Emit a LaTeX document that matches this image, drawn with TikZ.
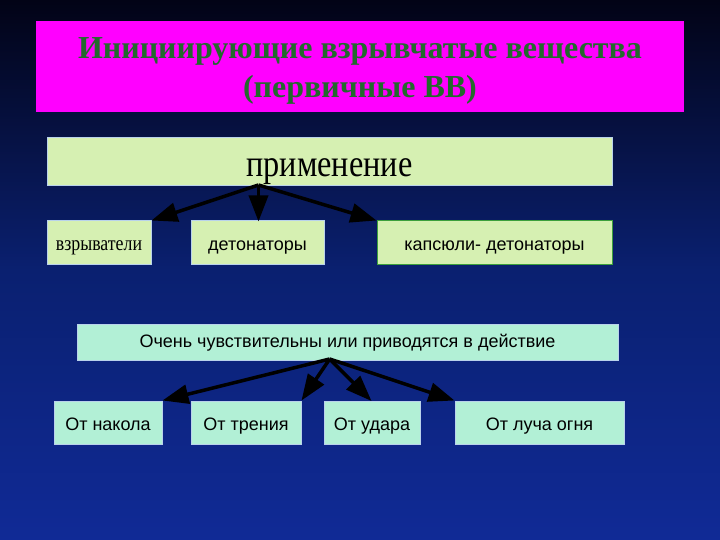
\documentclass[tikz,border=0pt]{standalone}
\usepackage{fontspec}
\setmainfont{Liberation Serif}
\setsansfont{Liberation Sans}
\newfontfamily\narrowserif[FakeStretch=0.85]{Liberation Serif}
\usetikzlibrary{arrows.meta}
\definecolor{skytop}{RGB}{2,3,22}
\definecolor{skymid}{RGB}{10,32,112}
\definecolor{skybottom}{RGB}{16,42,150}
\definecolor{titlepink}{RGB}{255,0,255}
\definecolor{titlegreen}{RGB}{35,105,45}
\definecolor{usegreen}{RGB}{214,240,178}
\definecolor{sensmint}{RGB}{178,240,214}
\definecolor{boxedge}{RGB}{185,210,235}
\definecolor{capedge}{RGB}{60,160,60}
\tikzstyle{usebox}=[draw=boxedge, fill=usegreen, line width=1pt, inner sep=0pt, text height=15pt, text depth=0pt]
\tikzstyle{sensbox}=[draw=boxedge, fill=sensmint, line width=1pt, inner sep=0pt, text height=15pt, text depth=0pt, font=\sffamily\fontsize{18}{21}\selectfont]
\tikzstyle{bigarrow}=[line width=3.5pt, -{Triangle[length=26pt, width=19pt]}]

\begin{document}
\begin{tikzpicture}[x=1pt, y=-1pt]
% Background
    \shade[top color=skytop, bottom color=skybottom, middle color=skymid] (0, 0) rectangle (720, 540);
    \useasboundingbox (0, 0) rectangle (720, 540);
% Title
    \node[fill=titlepink, minimum width=648pt, minimum height=91pt, inner sep=0pt] (title) at (360, 66.5) {};
    \node[align=center, text=titlegreen, font=\fontsize{32}{39}\selectfont\bfseries] (titletext) at (360, 71) {Инициирующие взрывчатые вещества\\(первичные ВВ)};
% Application
    \node[usebox, minimum width=565pt, minimum height=48pt] (use) at (329.5, 162) {};
    \node[anchor=base, inner sep=0pt, font=\narrowserif\fontsize{38}{44}\selectfont] (usetext) at (329.5, 176.5) {применение};
    \node[usebox, minimum width=104pt, minimum height=43pt, font=\narrowserif\fontsize{21}{24}\selectfont] (vzr) at (99, 242.5) {взрыватели};
    \node[usebox, minimum width=133pt, minimum height=43pt, font=\sffamily\fontsize{18}{21}\selectfont] (det) at (257.5, 242.5) {детонаторы};
    \node[usebox, draw=capedge, minimum width=235pt, minimum height=43pt, font=\sffamily\fontsize{18}{21}\selectfont] (kap) at (494.5, 242.5) {капсюли- детонаторы};
    \coordinate (usefork) at (258.5, 185);
    \draw[bigarrow] (usefork) -- (vzr.north east);
    \draw[bigarrow] (usefork) -- (258.5, 221.5) coordinate (dettop);
    \draw[bigarrow] (usefork) -- (kap.north west);
% Sensitivity
    \node[sensbox, minimum width=541pt, minimum height=36pt, text height=10pt] (sens) at (347.5, 342) {Очень чувствительны или приводятся в действие};
    \node[sensbox, minimum width=108pt, minimum height=43pt] (nakol) at (108, 422.5) {От накола};
    \node[sensbox, minimum width=110pt, minimum height=43pt] (tren) at (246, 422.5) {От трения};
    \node[sensbox, minimum width=96pt, minimum height=43pt] (udar) at (372, 422.5) {От удара};
    \node[sensbox, minimum width=169pt, minimum height=43pt] (luch) at (539.5, 422.5) {От луча огня};
    \coordinate (sensfork) at (329.7, 359);
    \draw[bigarrow] (sensfork) -- (nakol.north east);
    \draw[bigarrow] (sensfork) -- (tren.north east);
    \draw[bigarrow] (sensfork) -- (371.5, 401) coordinate (udartop);
    \draw[bigarrow] (sensfork) -- (luch.north west);
\end{tikzpicture}
\end{document}
